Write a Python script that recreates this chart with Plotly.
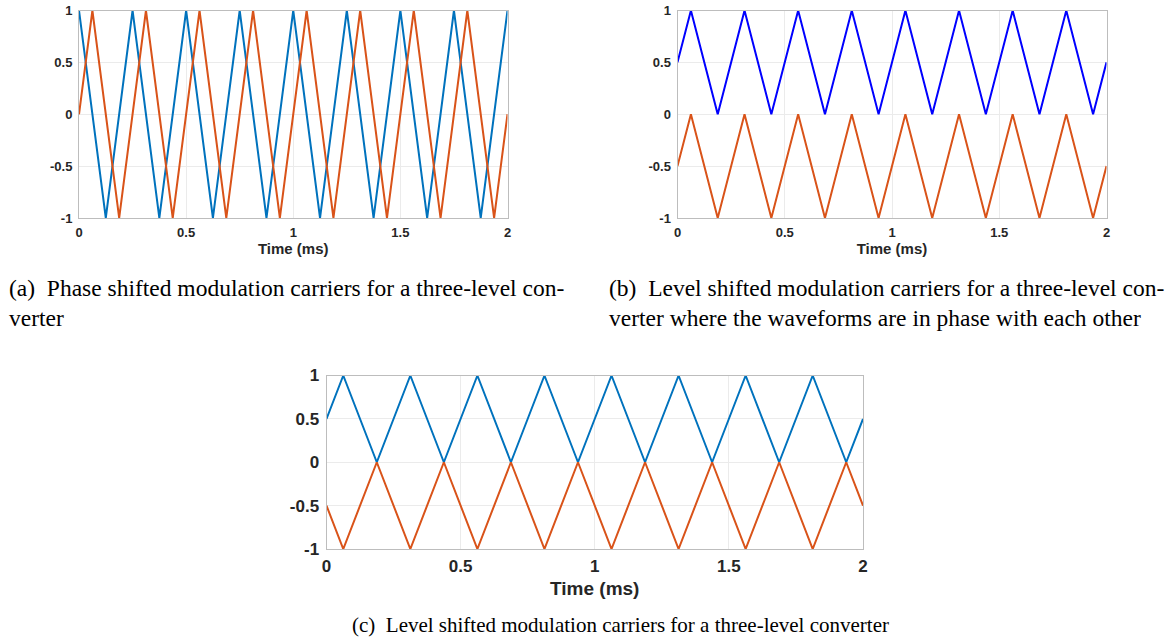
import plotly.graph_objects as go

# ---------------- data (vertices of the triangular carriers, time in ms) ----------------
a_time_blue = [0, 0.125, 0.25, 0.375, 0.5, 0.625, 0.75, 0.875, 1.0,
               1.125, 1.25, 1.375, 1.5, 1.625, 1.75, 1.875, 2.0]
a_val_blue = [1, -1, 1, -1, 1, -1, 1, -1, 1, -1, 1, -1, 1, -1, 1, -1, 1]

a_time_orange = [0, 0.0625, 0.1875, 0.3125, 0.4375, 0.5625, 0.6875, 0.8125, 0.9375,
                 1.0625, 1.1875, 1.3125, 1.4375, 1.5625, 1.6875, 1.8125, 1.9375, 2.0]
a_val_orange = [0, 1, -1, 1, -1, 1, -1, 1, -1, 1, -1, 1, -1, 1, -1, 1, -1, 0]

bc_time = [0, 0.0625, 0.1875, 0.3125, 0.4375, 0.5625, 0.6875, 0.8125, 0.9375,
           1.0625, 1.1875, 1.3125, 1.4375, 1.5625, 1.6875, 1.8125, 1.9375, 2.0]
b_val_upper = [0.5, 1, 0, 1, 0, 1, 0, 1, 0, 1, 0, 1, 0, 1, 0, 1, 0, 0.5]
b_val_lower = [-0.5, 0, -1, 0, -1, 0, -1, 0, -1, 0, -1, 0, -1, 0, -1, 0, -1, -0.5]
c_val_upper = [0.5, 1, 0, 1, 0, 1, 0, 1, 0, 1, 0, 1, 0, 1, 0, 1, 0, 0.5]
c_val_lower = [-0.5, -1, 0, -1, 0, -1, 0, -1, 0, -1, 0, -1, 0, -1, 0, -1, 0, -0.5]

x_tickvals = [0, 0.5, 1, 1.5, 2]
x_ticktext = ["0", "0.5", "1", "1.5", "2"]
y_tickvals = [-1, -0.5, 0, 0.5, 1]
y_ticktext = ["-1", "-0.5", "0", "0.5", "1"]

x_title = "Time (ms)"
caption_a = ["(a)\u00a0 Phase shifted modulation carriers for a three-level con-", "verter"]
caption_b = ["(b)\u00a0 Level shifted modulation carriers for a three-level con-",
             "verter where the waveforms are in phase with each other"]
caption_c = "(c)\u00a0 Level shifted modulation carriers for a three-level converter"

# ---------------- styling ----------------
W, H = 1165, 642
BLUE = "#0072BD"
PURE_BLUE = "#0000FF"
ORANGE = "#D95319"
TXT = "#262626"
BOX = "#BDBDBD"
GRID = "#EBEBEB"
SANS = "Liberation Sans, Arial, sans-serif"
SERIF = "Liberation Serif, Times New Roman, serif"


def px_x(x):
    return x / W


def px_y(y):
    return 1 - y / H


fig = go.Figure()

panels = [
    # (xaxis id, yaxis id, x-domain px, y-domain px, tick size, title size, title standoff, traces)
    ("x", "y", (79, 507.5), (10.5, 218), 13, 15, 4,
     [(a_time_blue, a_val_blue, BLUE), (a_time_orange, a_val_orange, ORANGE)]),
    ("x2", "y2", (677.5, 1106.5), (10.5, 218), 13, 15, 4,
     [(bc_time, b_val_upper, PURE_BLUE), (bc_time, b_val_lower, ORANGE)]),
    ("x3", "y3", (326.5, 863), (375.5, 549), 17, 19, 6,
     [(bc_time, c_val_upper, BLUE), (bc_time, c_val_lower, ORANGE)]),
]

for xa, ya, (x0, x1), (y0, y1), tsize, tisize, tstand, traces in panels:
    for t, v, col in traces:
        fig.add_trace(go.Scatter(x=t, y=v, mode="lines", xaxis=xa, yaxis=ya,
                                 line=dict(color=col, width=2), showlegend=False,
                                 hoverinfo="skip"))
    xkey = "xaxis" if xa == "x" else "xaxis" + xa[1:]
    ykey = "yaxis" if ya == "y" else "yaxis" + ya[1:]
    tick_font = dict(family=SANS, size=tsize, color=TXT, weight="bold")
    fig.layout[xkey] = dict(
        domain=[px_x(x0), px_x(x1)], anchor=ya, range=[0, 2],
        tickvals=x_tickvals, ticktext=x_ticktext, tickfont=tick_font,
        showgrid=True, gridcolor=GRID, gridwidth=1, zeroline=False,
        showline=True, linecolor=BOX, linewidth=1, mirror=True,
        ticks="", ticklabelstandoff=2, automargin=False,
        title=dict(text=x_title, font=dict(family=SANS, size=tisize, color=TXT, weight="bold"),
                   standoff=tstand),
    )
    fig.layout[ykey] = dict(
        domain=[px_y(y1), px_y(y0)], anchor=xa, range=[-1, 1],
        tickvals=y_tickvals, ticktext=y_ticktext, tickfont=tick_font,
        showgrid=True, gridcolor=GRID, gridwidth=1, zeroline=False,
        showline=True, linecolor=BOX, linewidth=1, mirror=True,
        ticks="", ticklabelstandoff=3, automargin=False,
    )

cap_font_ab = dict(family=SERIF, size=23.5, color="#000000")
cap_font_c = dict(family=SERIF, size=21, color="#000000")
annotations = []
for i, line in enumerate(caption_a):
    annotations.append(dict(x=px_x(7), y=px_y(288 + 30 * i), xref="paper", yref="paper",
                            text=line, showarrow=False, xanchor="left", yanchor="middle",
                            font=cap_font_ab))
for i, line in enumerate(caption_b):
    annotations.append(dict(x=px_x(607), y=px_y(288 + 30 * i), xref="paper", yref="paper",
                            text=line, showarrow=False, xanchor="left", yanchor="middle",
                            font=cap_font_ab))
annotations.append(dict(x=px_x(620), y=px_y(625), xref="paper", yref="paper",
                        text=caption_c, showarrow=False, xanchor="center", yanchor="middle",
                        font=cap_font_c))

fig.update_layout(
    width=W, height=H,
    margin=dict(l=0, r=0, t=0, b=0),
    paper_bgcolor="white", plot_bgcolor="white",
    annotations=annotations,
    showlegend=False,
)

fig.write_html("out.html", config={"displayModeBar": False})
